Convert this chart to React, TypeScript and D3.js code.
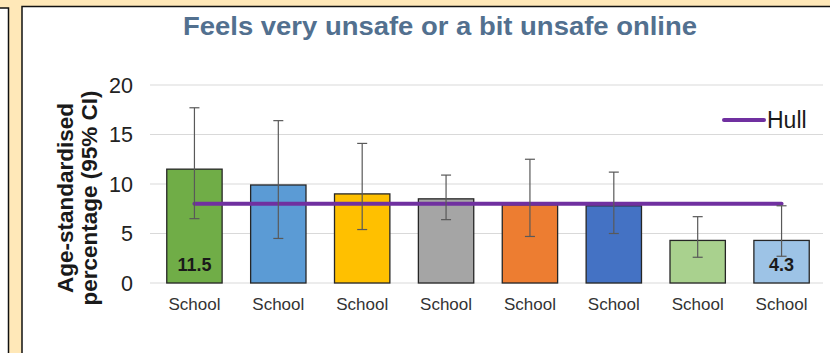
import React, { useRef, useEffect } from "react";
import * as d3 from "d3";

const categories = ["School", "School", "School", "School", "School", "School", "School", "School"];
const values = [11.5, 9.9, 9.0, 8.5, 7.9, 7.8, 4.3, 4.3];
const lower = [6.5, 4.5, 5.4, 6.4, 4.7, 5.0, 2.6, 2.7];
const upper = [17.7, 16.4, 14.1, 10.9, 12.5, 11.2, 6.7, 7.8];
const hull = 8.0;
const barColors = ["#70AD47", "#5B9BD5", "#FFC000", "#A5A5A5", "#ED7D31", "#4472C4", "#A9D18E", "#9DC3E6"];
const labelledBars = [0, 7];
const yTicks = [0, 5, 10, 15, 20];

const W = 830;
const H = 353;
const FONT = "Liberation Sans, Arial, sans-serif";

const App: React.FC = () => {
    const svgRef = useRef<SVGSVGElement | null>(null);

    useEffect(() => {
        const svg = d3.select(svgRef.current);
        svg.selectAll("*").remove();

        // frame decoration
        svg.append("rect").attr("x", 0).attr("y", 0).attr("width", W).attr("height", H).attr("fill", "#FFE8B8");
        svg.append("rect").attr("x", -2).attr("y", 8).attr("width", 10.5).attr("height", H).attr("fill", "#fff").attr("stroke", "#111").attr("stroke-width", 1.5);
        svg.append("rect").attr("x", 22).attr("y", 6.5).attr("width", W).attr("height", H).attr("fill", "#fff").attr("stroke", "#111").attr("stroke-width", 1.5);

        const x = d3.scaleBand<number>()
            .domain(d3.range(categories.length))
            .range([152.5, 823.5])
            .paddingInner(0.34)
            .paddingOuter(0.17);
        const y = d3.scaleLinear().domain([0, 20]).range([283, 85]);
        const cx = (i: number) => x(i)! + x.bandwidth() / 2;

        // gridlines
        svg.append("g")
            .selectAll("line")
            .data(yTicks)
            .join("line")
            .attr("x1", 150)
            .attr("x2", 823)
            .attr("y1", (d) => y(d))
            .attr("y2", (d) => y(d))
            .attr("stroke", "#D9D9D9")
            .attr("stroke-width", 1.2);

        // y tick labels
        svg.append("g")
            .selectAll("text")
            .data(yTicks)
            .join("text")
            .attr("x", 133)
            .attr("y", (d) => y(d))
            .attr("dy", "0.36em")
            .attr("text-anchor", "end")
            .attr("font-family", FONT)
            .attr("font-size", 21.5)
            .attr("fill", "#222")
            .text((d) => d);

        // bars
        svg.append("g")
            .selectAll("rect")
            .data(values)
            .join("rect")
            .attr("x", (_, i) => x(i)!)
            .attr("y", (d) => y(d))
            .attr("width", x.bandwidth())
            .attr("height", (d) => y(0) - y(d))
            .attr("fill", (_, i) => barColors[i])
            .attr("stroke", "#262626")
            .attr("stroke-width", 1.3);

        // bar value labels
        svg.append("g")
            .selectAll("text")
            .data(labelledBars)
            .join("text")
            .attr("x", (i) => cx(i))
            .attr("y", y(0) - 12)
            .attr("text-anchor", "middle")
            .attr("font-family", FONT)
            .attr("font-weight", "bold")
            .attr("font-size", 18)
            .attr("fill", "#1a1a1a")
            .text((i) => values[i].toFixed(1));

        // hull line
        svg.append("line")
            .attr("x1", cx(0))
            .attr("x2", cx(categories.length - 1))
            .attr("y1", y(hull))
            .attr("y2", y(hull))
            .attr("stroke", "#7030A0")
            .attr("stroke-width", 4)
            .attr("stroke-linecap", "round");

        // error bars
        const eb = svg.append("g").attr("stroke", "#595959").attr("stroke-width", 1.2);
        values.forEach((_, i) => {
            const c = cx(i);
            eb.append("line").attr("x1", c).attr("x2", c).attr("y1", y(upper[i])).attr("y2", y(lower[i]));
            eb.append("line").attr("x1", c - 5).attr("x2", c + 5).attr("y1", y(upper[i])).attr("y2", y(upper[i]));
            eb.append("line").attr("x1", c - 5).attr("x2", c + 5).attr("y1", y(lower[i])).attr("y2", y(lower[i]));
        });

        // x labels
        svg.append("g")
            .selectAll("text")
            .data(categories)
            .join("text")
            .attr("x", (_, i) => cx(i))
            .attr("y", 310)
            .attr("text-anchor", "middle")
            .attr("font-family", FONT)
            .attr("font-size", 17)
            .attr("fill", "#333")
            .text((d) => d);

        // title
        svg.append("text")
            .attr("x", 440)
            .attr("y", 35)
            .attr("text-anchor", "middle")
            .attr("font-family", FONT)
            .attr("font-weight", "bold")
            .attr("font-size", 26.5)
            .attr("textLength", 514)
            .attr("lengthAdjust", "spacingAndGlyphs")
            .attr("fill", "#52708F")
            .text("Feels very unsafe or a bit unsafe online");

        // y axis title
        const yt = svg.append("text")
            .attr("transform", "translate(0,198) rotate(-90)")
            .attr("text-anchor", "middle")
            .attr("font-family", FONT)
            .attr("font-weight", "bold")
            .attr("font-size", 22.5)
            .attr("fill", "#1a1a1a");
        yt.append("tspan").attr("x", 0).attr("y", 73).text("Age-standardised");
        yt.append("tspan").attr("x", 0).attr("y", 97).text("percentage (95% CI)");

        // legend
        svg.append("line")
            .attr("x1", 724)
            .attr("x2", 764)
            .attr("y1", 120)
            .attr("y2", 120)
            .attr("stroke", "#7030A0")
            .attr("stroke-width", 4)
            .attr("stroke-linecap", "round");
        svg.append("text")
            .attr("x", 767)
            .attr("y", 128)
            .attr("font-family", FONT)
            .attr("font-size", 23)
            .attr("fill", "#1a1a1a")
            .text("Hull");

        return () => {
            svg.selectAll("*").remove();
        };
    }, []);

    return (
        <div style={{ position: "fixed", left: 0, top: 0 }}>
            <svg ref={svgRef} width={W} height={H} style={{ display: "block" }}></svg>
        </div>
    );
};

export default App;
